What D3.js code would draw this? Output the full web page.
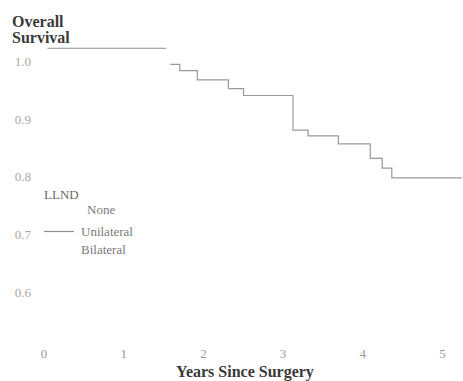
<!DOCTYPE html>
<html>
<head>
<meta charset="utf-8">
<script src="https://cdn.jsdelivr.net/npm/d3@7"></script>
<style>
  html, body { margin: 0; padding: 0; background: #fff; }
  svg { display: block; }
  text { font-family: "Liberation Serif", "DejaVu Serif", serif; }
</style>
</head>
<body>
<svg id="chart" width="463" height="381"></svg>
<script>
// Kaplan–Meier overall survival by LLND group
const yearTicks = [0, 1, 2, 3, 4, 5];
const survTicks = [0.6, 0.7, 0.8, 0.9, 1.0];

// early follow-up segment (years, survival)
const earlyTimes = [0.05, 1.54];
const earlySurv = [1.023, 1.023];

// step curve: time each level begins, survival at that level
const stepTimes = [1.59, 1.71, 1.93, 2.32, 2.51, 3.13, 3.32, 3.70, 4.10, 4.25, 4.37, 5.25];
const stepSurv = [0.995, 0.984, 0.968, 0.953, 0.941, 0.881, 0.871, 0.857, 0.832, 0.815, 0.798, 0.798];

const legendTitle = "LLND";
const legendItems = ["None", "Unilateral", "Bilateral"];

const svg = d3.select("#chart");

const x = d3.scaleLinear().domain([0, 5]).range([43.5, 442]);
const y = d3.scaleLinear().domain([0.6, 1.0]).range([292, 61.5]);

// axis title (y)
svg.append("text").attr("x", 12).attr("y", 27)
  .attr("font-size", 16).attr("font-weight", "bold").attr("fill", "#3a3a3a")
  .text("Overall");
svg.append("text").attr("x", 12).attr("y", 43)
  .attr("font-size", 16).attr("font-weight", "bold").attr("fill", "#3a3a3a")
  .text("Survival");

// y axis labels
const yAxis = svg.append("g").attr("transform", "translate(31,0)")
  .call(d3.axisLeft(y).tickValues(survTicks).tickSize(0).tickPadding(0)
    .tickFormat(d3.format(".1f")));
yAxis.select(".domain").remove();
yAxis.selectAll("text").attr("font-size", 13).attr("fill", "#a8a8a8")
  .style("font-family", "Liberation Serif, serif");

// x axis labels
const xAxis = svg.append("g").attr("transform", "translate(0,349)")
  .call(d3.axisBottom(x).tickValues(yearTicks).tickSize(0).tickPadding(0)
    .tickFormat(d3.format("d")));
xAxis.select(".domain").remove();
xAxis.selectAll("text").attr("font-size", 13).attr("fill", "#9a9a9a")
  .style("font-family", "Liberation Serif, serif");

// x axis title
svg.append("text").attr("x", 245).attr("y", 377).attr("text-anchor", "middle")
  .attr("font-size", 16).attr("font-weight", "bold").attr("fill", "#3a3a3a")
  .text("Years Since Surgery");

// survival curves
const line = d3.line()
  .x(d => x(d[0])).y(d => y(d[1]))
  .curve(d3.curveStepAfter);

svg.append("path")
  .attr("d", line(earlyTimes.map((t, i) => [t, earlySurv[i]])))
  .attr("fill", "none").attr("stroke", "#8f8f8f").attr("stroke-width", 1.2);

svg.append("path")
  .attr("d", line(stepTimes.map((t, i) => [t, stepSurv[i]])))
  .attr("fill", "none").attr("stroke", "#999").attr("stroke-width", 1.2);

// legend
svg.append("text").attr("x", 44).attr("y", 199)
  .attr("font-size", 13).attr("fill", "#6a6a6a").text(legendTitle);
const legY = [214, 236, 254];
const legX = [87, 81, 81];
legendItems.forEach((name, i) => {
  svg.append("text").attr("x", legX[i]).attr("y", legY[i])
    .attr("font-size", 13).attr("fill", "#7a7a7a").text(name);
});
svg.append("line").attr("x1", 44).attr("x2", 74).attr("y1", 231.5).attr("y2", 231.5)
  .attr("stroke", "#8f8f8f").attr("stroke-width", 1.2);
</script>
</body>
</html>
